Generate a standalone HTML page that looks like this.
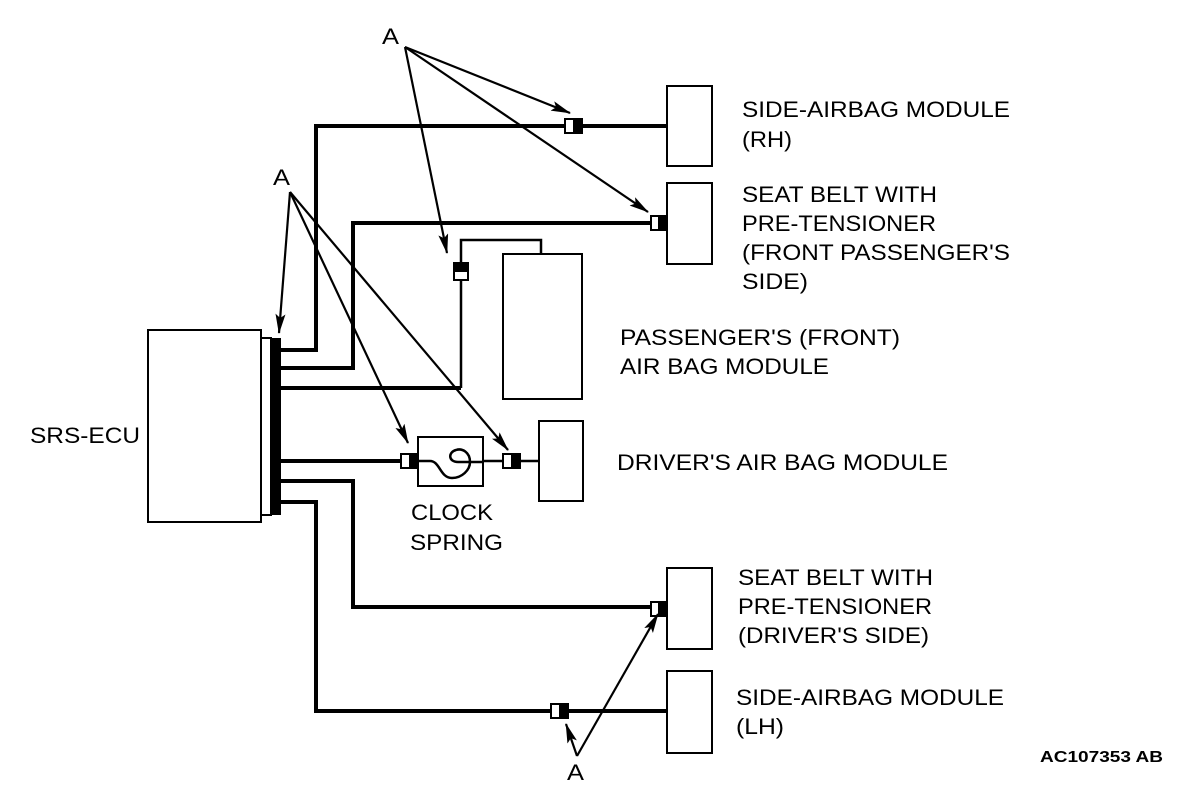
<!DOCTYPE html>
<html><head><style>html,body{margin:0;padding:0;background:#fff}svg{display:block}text{font-family:"Liberation Sans",Arial,sans-serif;font-size:22px;fill:#000}</style></head>
<body>
<svg width="1200" height="800" viewBox="0 0 1200 800" xmlns="http://www.w3.org/2000/svg">
<defs><marker id="ar" markerWidth="20" markerHeight="10" refX="19" refY="5" orient="auto" markerUnits="userSpaceOnUse"><path d="M0,0 L20,5 L0,10 L4,5 Z" fill="#000"/></marker></defs>
<g fill="#fff" stroke="#000" stroke-width="2">
<rect x="148" y="330" width="113" height="192"/>
<rect x="261" y="338" width="10" height="177"/>
<rect x="503" y="254" width="79" height="145"/>
<rect x="539" y="421" width="44" height="80"/>
<rect x="418" y="437" width="65" height="49"/>
<rect x="667" y="86" width="45" height="80"/>
<rect x="667" y="183" width="45" height="81"/>
<rect x="667" y="568" width="45" height="81"/>
<rect x="667" y="671" width="45" height="82"/>
</g>
<rect x="270" y="338" width="11" height="177" fill="#000"/>
<g fill="none" stroke="#000" stroke-width="4">
<polyline points="281,350 316,350 316,126 667,126"/>
<polyline points="281,368 353,368 353,223 652,223"/>
<polyline points="281,388 461,388"/>
<polyline points="281,461 402,461"/>
<polyline points="281,481 353,481 353,607 652,607"/>
<polyline points="281,502 316,502 316,711 667,711"/>
</g>
<g fill="none" stroke="#000" stroke-width="2.5">
<polyline points="461,388 461,279"/>
<polyline points="461,262 461,240 541,240 541,254"/>
<line x1="483" y1="461" x2="503" y2="461"/>
<line x1="520" y1="461" x2="539" y2="461"/>
<path d="M419,461 L430,461 C440,461 440,478 452,478 C462,478 470,470 470,462 C470,452 462,448 456,450 C448,452 448,462 458,462 L483,462"/>
</g>
<g stroke="#000" stroke-width="2">
<rect x="565" y="119" width="9" height="14" fill="#fff"/><rect x="574" y="119" width="8" height="14" fill="#000"/>
<rect x="651" y="216" width="8" height="14" fill="#fff"/><rect x="659" y="216" width="7" height="14" fill="#000"/>
<rect x="454" y="271" width="14" height="9" fill="#fff"/><rect x="454" y="263" width="14" height="8" fill="#000"/>
<rect x="401" y="454" width="9" height="14" fill="#fff"/><rect x="410" y="454" width="8" height="14" fill="#000"/>
<rect x="503" y="454" width="9" height="14" fill="#fff"/><rect x="512" y="454" width="8" height="14" fill="#000"/>
<rect x="651" y="602" width="8" height="14" fill="#fff"/><rect x="659" y="602" width="7" height="14" fill="#000"/>
<rect x="551" y="704" width="9" height="14" fill="#fff"/><rect x="560" y="704" width="8" height="14" fill="#000"/>
</g>
<g stroke="#000" stroke-width="2.2" marker-end="url(#ar)">
<line x1="405" y1="47" x2="570" y2="113"/>
<line x1="405" y1="47" x2="648" y2="212"/>
<line x1="405" y1="47" x2="447" y2="253"/>
<line x1="290" y1="192" x2="279" y2="333"/>
<line x1="290" y1="192" x2="408" y2="443"/>
<line x1="290" y1="192" x2="508" y2="450"/>
<line x1="577" y1="756" x2="566" y2="724"/>
<line x1="577" y1="756" x2="658" y2="614"/>
</g>
<g lengthAdjust="spacingAndGlyphs">
<text x="382" y="44" textLength="17" lengthAdjust="spacingAndGlyphs">A</text>
<text x="273" y="185" textLength="17" lengthAdjust="spacingAndGlyphs">A</text>
<text x="567" y="780" textLength="17" lengthAdjust="spacingAndGlyphs">A</text>
<text x="30" y="443" textLength="110" lengthAdjust="spacingAndGlyphs">SRS-ECU</text>
<text x="742" y="117" textLength="268" lengthAdjust="spacingAndGlyphs">SIDE-AIRBAG MODULE</text>
<text x="742" y="147" textLength="50" lengthAdjust="spacingAndGlyphs">(RH)</text>
<text x="742" y="202" textLength="195" lengthAdjust="spacingAndGlyphs">SEAT BELT WITH</text>
<text x="742" y="231" textLength="194" lengthAdjust="spacingAndGlyphs">PRE-TENSIONER</text>
<text x="742" y="260" textLength="268" lengthAdjust="spacingAndGlyphs">(FRONT PASSENGER'S</text>
<text x="742" y="289" textLength="66" lengthAdjust="spacingAndGlyphs">SIDE)</text>
<text x="620" y="345" textLength="280" lengthAdjust="spacingAndGlyphs">PASSENGER'S (FRONT)</text>
<text x="620" y="374" textLength="209" lengthAdjust="spacingAndGlyphs">AIR BAG MODULE</text>
<text x="617" y="470" textLength="331" lengthAdjust="spacingAndGlyphs">DRIVER'S AIR BAG MODULE</text>
<text x="411" y="520" textLength="82" lengthAdjust="spacingAndGlyphs">CLOCK</text>
<text x="410" y="550" textLength="93" lengthAdjust="spacingAndGlyphs">SPRING</text>
<text x="738" y="585" textLength="195" lengthAdjust="spacingAndGlyphs">SEAT BELT WITH</text>
<text x="738" y="614" textLength="194" lengthAdjust="spacingAndGlyphs">PRE-TENSIONER</text>
<text x="738" y="643" textLength="191" lengthAdjust="spacingAndGlyphs">(DRIVER'S SIDE)</text>
<text x="736" y="705" textLength="268" lengthAdjust="spacingAndGlyphs">SIDE-AIRBAG MODULE</text>
<text x="736" y="734" textLength="48" lengthAdjust="spacingAndGlyphs">(LH)</text>
<text x="1040" y="762" style="font-size:16px;font-weight:bold" textLength="123" lengthAdjust="spacingAndGlyphs">AC107353 AB</text>
</g>
</svg>
</body></html>
